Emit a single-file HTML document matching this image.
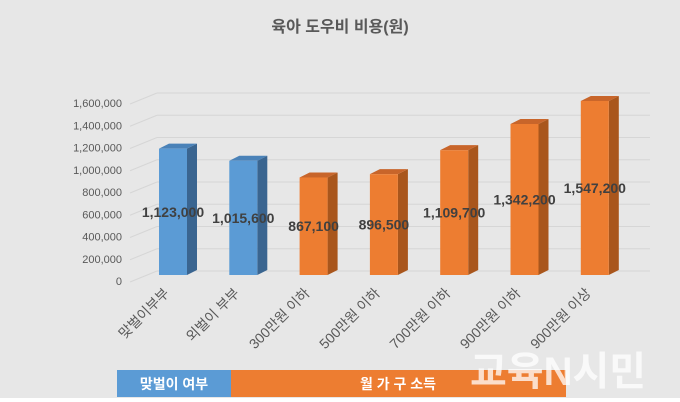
<!DOCTYPE html>
<html><head><meta charset="utf-8"><style>
html,body{margin:0;padding:0;background:#fff}
svg{display:block}
text{font-family:"Liberation Sans","Noto Sans CJK KR",sans-serif}
</style></head><body>
<svg id="c" width="680" height="402">
<rect x="0" y="0" width="680" height="398" fill="#e7e7e7"/>
<text x="340" y="32" text-anchor="middle" font-size="16" font-weight="bold" fill="#595959">육아 도우비 비용(원)</text>
<g id="grid"></g><g id="bars"></g><g id="labels"></g>
<rect x="117" y="370" width="114" height="27" fill="#5b9bd5"/>
<rect x="231" y="370" width="335" height="27" fill="#ed7d31"/>
<text x="174" y="389" text-anchor="middle" font-size="14" font-weight="bold" fill="#fff">맞벌이 여부</text>
<text x="398" y="389" text-anchor="middle" font-size="14" font-weight="bold" fill="#fff">월 가 구 소득</text>
<text x="470" y="385" font-size="40" font-weight="bold" fill="#fff" fill-opacity="0.75">교육N시민</text>
</svg>
<script>
const categories=["맞벌이부부","외벌이 부부","300만원 이하","500만원 이하","700만원 이하","900만원 이하","900만원 이상"];
const values=[1123000,1015600,867100,896500,1109700,1342200,1547200];
const valueLabels=["1,123,000","1,015,600","867,100","896,500","1,109,700","1,342,200","1,547,200"];
const groups=["dual","dual","income","income","income","income","income"];
const ticks=[0,200000,400000,600000,800000,1000000,1200000,1400000,1600000];
const tickLabels=["0","200,000","400,000","600,000","800,000","1,000,000","1,200,000","1,400,000","1,600,000"];
const NS="http://www.w3.org/2000/svg";
const y0=275,k=112.5e-6;
function y(v){return y0-v*k;}
function x(i){return 173+i*70.3;}
function mk(t,a,p){const e=document.createElementNS(NS,t);for(const n in a)e.setAttribute(n,a[n]);p.appendChild(e);return e;}
const G=document.getElementById('grid'),B=document.getElementById('bars'),L=document.getElementById('labels');
ticks.forEach((t,i)=>{
 const ty=285-(t/200000)*22.25;
 const l=mk('line',{x1:130,y1:ty-3,x2:157,y2:ty-14,stroke:'#d6d6d6','stroke-width':1},G);
 
 const h=mk('line',{x1:157,y1:ty-14,x2:650,y2:ty-14,stroke:'#d6d6d6','stroke-width':1},G);
 
 const tx=mk('text',{x:122,y:ty,'text-anchor':'end','font-size':11,fill:'#595959'},G);
 tx.textContent=tickLabels[i];
 
});
values.forEach((v,i)=>{
 const cx=x(i),w=28,top=y(v),l=cx-w/2,d=10,dy=5;
 const front=groups[i]==='dual'?'#5b9bd5':'#ed7d31',side=groups[i]==='dual'?'#3a6590':'#a9561c',tp=groups[i]==='dual'?'#4a82b8':'#c8652a';
 const g=mk('g',{},B);
 
 mk('polygon',{points:`${l+w},${top} ${l+w+d},${top-dy} ${l+w+d},${y0-dy} ${l+w},${y0}`,fill:side},g);
 mk('polygon',{points:`${l},${top} ${l+d},${top-dy} ${l+w+d},${top-dy} ${l+w},${top}`,fill:tp},g);
 mk('rect',{x:l,y:top,width:w,height:y0-top,fill:front},g);
 const t=mk('text',{x:cx,y:(y0+top)/2+5,'text-anchor':'middle','font-size':14,'font-weight':'bold',fill:'#404040'},L);
 t.textContent=valueLabels[i];
 
 const ax=cx-3,ay=294;
 const c=mk('text',{x:ax,y:ay,'text-anchor':'end','font-size':14,fill:'#595959',transform:`rotate(-45 ${ax} ${ay})`},L);
 c.textContent=categories[i];
 
});
</script>
</body></html>
